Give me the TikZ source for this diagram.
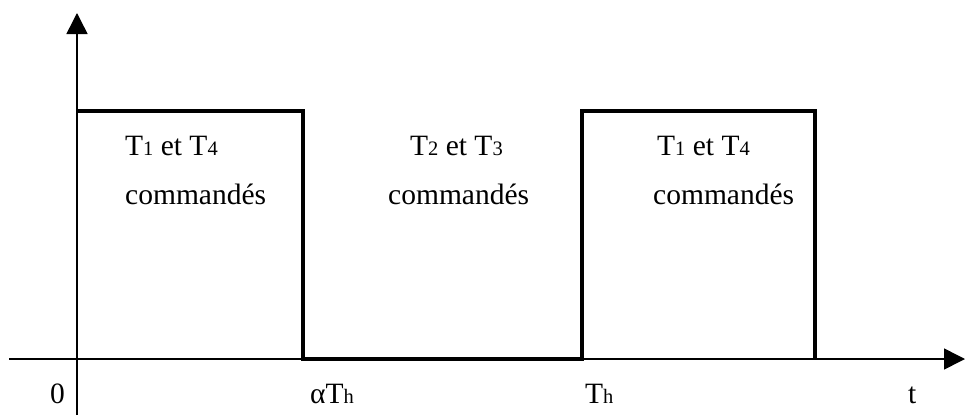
\documentclass[tikz,border=0pt]{standalone}
\usepackage{fontspec}
\setmainfont{Liberation Serif}
\usetikzlibrary{arrows.meta}
\newcommand{\smsub}[1]{{\fontsize{20.5}{24}\selectfont #1}}
\begin{document}
\begin{tikzpicture}[x=1pt,y=-1pt,
  axis/.style={line width=1.5pt,-{Triangle[length=21pt,width=21pt]}},
  signal/.style={line width=4pt,line join=miter},
  lbl/.style={anchor=base west,inner sep=0pt,font=\fontsize{29.5}{34}\selectfont}]
\useasboundingbox (0,0) rectangle (965,415);
% axes
\coordinate (ybot) at (77,415);
\coordinate (ytop) at (77,13);
\coordinate (xleft) at (9,359);
\coordinate (xright) at (965,359);
\draw[axis] (ybot) -- (ytop);
\draw[axis] (xleft) -- (xright);
% signal
\draw[signal] (77,111) -- (303,111) -- (303,359) -- (582,359) -- (582,111) -- (815,111) -- (815,359);
% labels in the boxes
\node[lbl] (a1) at (125,155) {T\smsub{1} et T\smsub{4}};
\node[lbl] (a2) at (125,204) {commandés};
\node[lbl] (b1) at (410,155) {T\smsub{2} et T\smsub{3}};
\node[lbl] (b2) at (388,204) {commandés};
\node[lbl] (c1) at (657,155) {T\smsub{1} et T\smsub{4}};
\node[lbl] (c2) at (653,204) {commandés};
% axis labels
\node[lbl] (l0) at (50,403) {0};
\node[lbl] (laT) at (310,403) {αT\smsub{h}};
\node[lbl] (lT) at (585,403) {T\smsub{h}};
\node[lbl] (lt) at (908,403) {t};
\end{tikzpicture}
\end{document}
